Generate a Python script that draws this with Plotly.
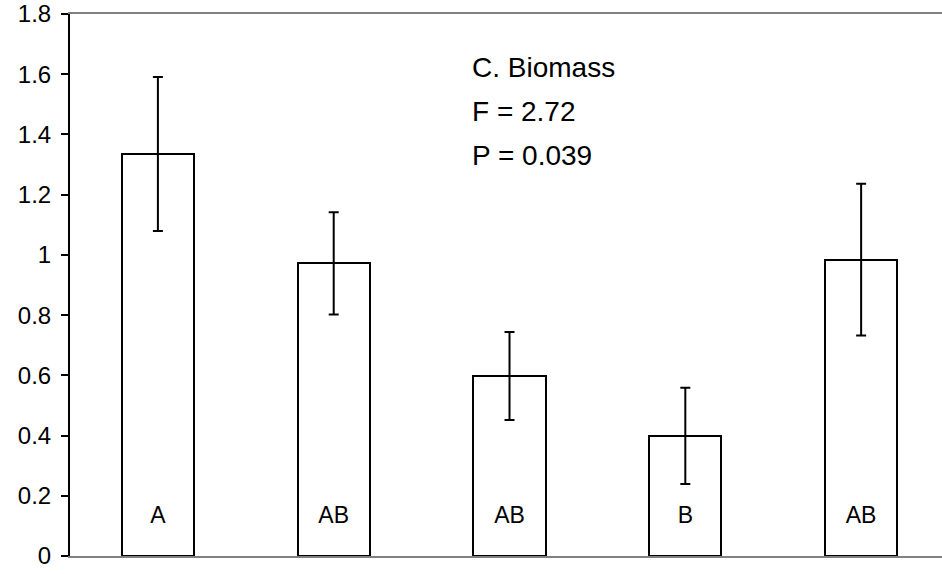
import plotly.graph_objects as go

categories = ["T1", "T2", "T3", "T4", "T5"]
biomass = [1.335, 0.972, 0.598, 0.399, 0.984]
errors = [0.256, 0.170, 0.146, 0.160, 0.252]
letters = ["A", "AB", "AB", "B", "AB"]
y_ticks = [0, 0.2, 0.4, 0.6, 0.8, 1.0, 1.2, 1.4, 1.6, 1.8]
y_tick_labels = ["0", "0.2", "0.4", "0.6", "0.8", "1", "1.2", "1.4", "1.6", "1.8"]
stats_lines = ["C. Biomass", "F = 2.72", "P = 0.039"]

xs = list(range(len(categories)))

fig = go.Figure()
fig.add_trace(go.Bar(
    x=xs, y=biomass, width=0.41,
    marker=dict(color="white", line=dict(color="black", width=2)),
    error_y=dict(type="data", array=errors, visible=True, color="black",
                 thickness=2, width=5),
    showlegend=False, hoverinfo="skip",
))

fig.add_trace(go.Scatter(
    x=xs, y=[0.13] * len(xs), mode="text", text=letters,
    textfont=dict(family="Liberation Sans Narrow, Arial Narrow, Liberation Sans, Arial", size=23, color="black"),
    showlegend=False, hoverinfo="skip",
))

for i, line in enumerate(stats_lines):
    fig.add_annotation(
        x=470, y=67 + 44 * i, xref="paper", yref="paper", text=line,
        showarrow=False, xanchor="left", yanchor="middle",
        font=dict(family="Liberation Sans, Arial", size=28, color="black"),
    )

# convert pixel positions of annotations to paper coordinates
plot_left, plot_right, plot_top, plot_bottom = 70, 942, 14, 556
for ann in fig.layout.annotations:
    ann.x = (ann.x - plot_left) / (plot_right - plot_left)
    ann.y = (plot_bottom - ann.y) / (plot_bottom - plot_top)

fig.update_layout(
    width=942, height=574,
    margin=dict(l=70, r=0, t=14, b=18),
    paper_bgcolor="white", plot_bgcolor="white",
    font=dict(family="Liberation Sans, Arial", size=24, color="black"),
    bargap=0,
)
fig.update_xaxes(
    range=[-0.5, 4.46], showticklabels=False, ticks="",
    showline=True, linecolor="#808080", linewidth=2, mirror=True,
    showgrid=False, zeroline=False,
)
fig.update_yaxes(
    range=[0, 1.8], tickvals=y_ticks, ticktext=y_tick_labels,
    ticks="outside", ticklen=7, tickwidth=2, tickcolor="black",
    showline=True, linecolor="black", linewidth=2,
    showgrid=False, zeroline=False, ticklabelstandoff=5,
    tickfont=dict(family="Liberation Sans, Arial", size=24, color="black"),
)

fig.write_html("out.html")
